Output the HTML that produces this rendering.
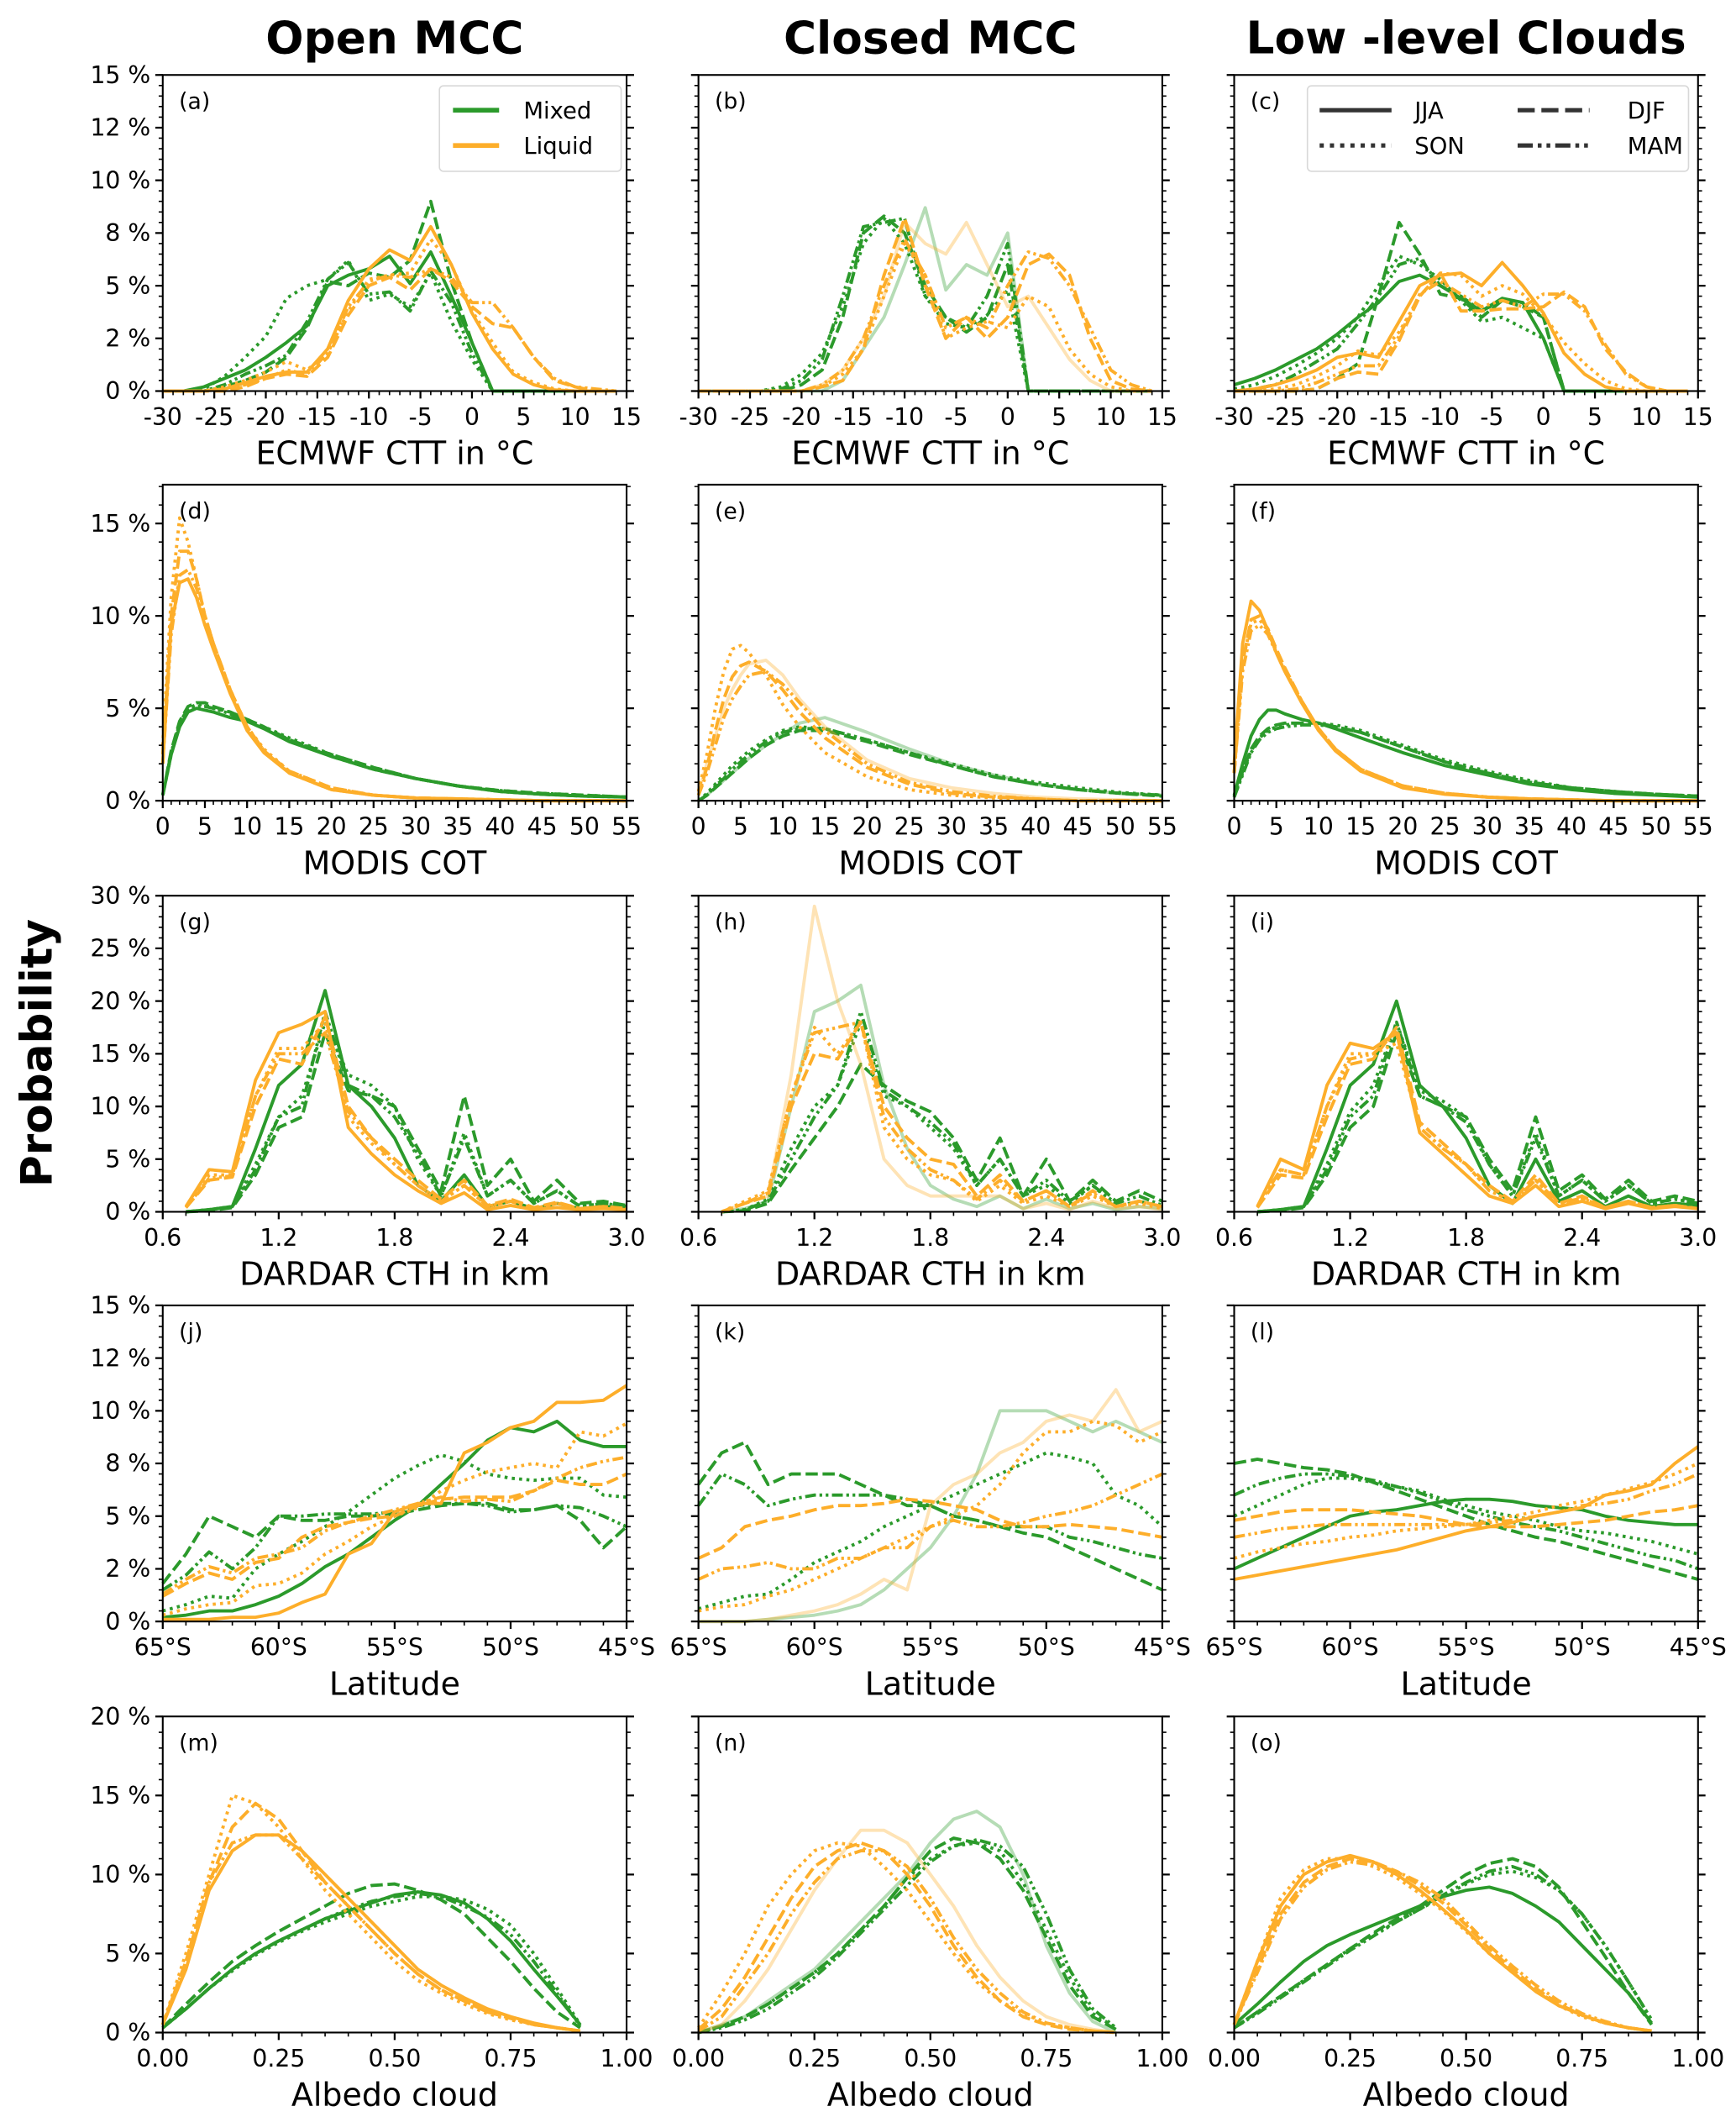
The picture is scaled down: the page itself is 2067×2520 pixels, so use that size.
<!DOCTYPE html>
<html><head><meta charset="utf-8"><title>Cloud statistics figure</title>
<style>
html,body{margin:0;padding:0;background:#fff;}
svg{display:block;font-family:"DejaVu Sans","Liberation Sans",sans-serif;}
</style></head>
<body>
<svg id="fig" width="2067" height="2520" viewBox="0 0 1280 1560" xmlns="http://www.w3.org/2000/svg"></svg>
<script>
// ---------- x grids ----------
const cttX = [-30,-28,-26,-24,-22,-20,-18,-16,-14,-12,-10,-8,-6,-4,-2,0,2,4,6,8,10,12,14];
const cotX = [0,1,2,3,4,5,6,8,10,12,15,20,25,30,35,40,45,50,55];
const cthX = [0.72,0.84,0.96,1.08,1.2,1.32,1.44,1.56,1.68,1.8,1.92,2.04,2.16,2.28,2.4,2.52,2.64,2.76,2.88,3.0];
const latX = [-65,-64,-63,-62,-61,-60,-59,-58,-57,-56,-55,-54,-53,-52,-51,-50,-49,-48,-47,-46,-45];
const albX = [0,0.05,0.1,0.15,0.2,0.25,0.3,0.35,0.4,0.45,0.5,0.55,0.6,0.65,0.7,0.75,0.8,0.85,0.9];

// ---------- tick labels ----------
const cttTicks = [-30,-25,-20,-15,-10,-5,0,5,10,15];
const cttTickLabels = ["-30","-25","-20","-15","-10","-5","0","5","10","15"];
const cotTicks = [0,5,10,15,20,25,30,35,40,45,50,55];
const cotTickLabels = ["0","5","10","15","20","25","30","35","40","45","50","55"];
const cthTicks = [0.6,1.2,1.8,2.4,3.0];
const cthTickLabels = ["0.6","1.2","1.8","2.4","3.0"];
const latTicks = [-65,-60,-55,-50,-45];
const latTickLabels = ["65°S","60°S","55°S","50°S","45°S"];
const albTicks = [0,0.25,0.5,0.75,1.0];
const albTickLabels = ["0.00","0.25","0.50","0.75","1.00"];
const y15Ticks = [0,2.5,5,7.5,10,12.5,15];
const y15Labels = ["0 %","2 %","5 %","8 %","10 %","12 %","15 %"];
const y17Ticks = [0,5,10,15];
const y17Labels = ["0 %","5 %","10 %","15 %"];
const y30Ticks = [0,5,10,15,20,25,30];
const y30Labels = ["0 %","5 %","10 %","15 %","20 %","25 %","30 %"];
const y20Ticks = [0,5,10,15,20];
const y20Labels = ["0 %","5 %","10 %","15 %","20 %"];

// ---------- (a) ----------
const a_gJ=[0,0,0.2,0.6,1,1.6,2.3,3.1,5,5.5,5.8,6.4,5.1,6.6,4.5,2.3,0,0,0,0,0,0,0];
const a_gS=[0,0,0.1,0.7,1.6,2.6,4.4,5.0,5.3,6.2,4.3,4.6,4.0,5.6,3.3,1.5,0,0,0,0,0,0,0];
const a_gD=[0,0,0,0.2,0.5,0.9,1.6,3.0,5.2,5.0,5.6,5.4,6.2,9.0,5.2,2.3,0,0,0,0,0,0,0];
const a_gM=[0,0,0,0.3,0.8,1.2,1.7,3.3,5.3,6.1,4.6,4.7,3.8,5.7,4.2,1.8,0,0,0,0,0,0,0];
const a_oJ=[0,0,0,0.1,0.4,0.7,0.9,0.9,2.0,4.3,5.8,6.7,6.2,7.8,6.0,3.7,2.0,0.8,0.3,0.05,0,0,0];
const a_oS=[0,0,0,0.2,0.5,0.9,1.4,1.0,1.8,3.8,5.3,5.5,5.6,7.2,6.0,3.8,2.3,0.9,0.4,0.1,0,0,0];
const a_oD=[0,0,0,0,0.2,0.6,0.8,0.7,1.6,3.6,5.0,5.4,4.8,5.8,5.2,4.0,3.2,3.0,1.6,0.5,0.2,0,0];
const a_oM=[0,0,0,0.1,0.3,0.6,1.0,0.8,1.8,4.0,5.2,5.5,5.4,5.8,5.4,4.2,4.2,3.0,1.6,0.6,0.2,0.1,0];
// ---------- (b) ----------
const b_gJ=[0,0,0,0,0,0,0,0.5,2.0,3.5,6.0,8.7,4.8,6.0,5.5,7.5,0,0,0,0,0,0,0];
const b_gS=[0,0,0,0,0.2,0.8,1.8,4.0,7.0,8.2,7.0,4.5,3.2,3.0,3.6,4.8,0,0,0,0,0,0,0];
const b_gD=[0,0,0,0,0,0.3,1.0,3.5,7.5,8.3,7.5,5.0,3.5,2.8,3.5,6.0,0,0,0,0,0,0,0];
const b_gM=[0,0,0,0,0.1,0.5,1.5,4.5,7.8,8.0,8.2,4.5,3.5,3.0,4.5,7.0,0,0,0,0,0,0,0];
const b_oJ=[0,0,0,0,0,0,0.3,1.0,2.5,4.5,8.0,7.0,6.5,8.0,6.0,4.0,4.5,3.0,1.5,0.5,0,0,0];
const b_oS=[0,0,0,0,0,0,0.2,0.8,2.0,4.5,7.0,5.5,2.5,3.0,3.3,3.0,4.5,4.0,2.0,0.8,0.2,0,0];
const b_oD=[0,0,0,0,0,0,0.2,0.5,2.0,5.5,8.2,5.0,2.5,3.5,2.5,3.5,6.0,6.5,5.5,2.5,0.5,0.1,0];
const b_oM=[0,0,0,0,0,0,0.3,1.0,2.5,5.0,7.2,5.5,3.0,3.5,3.0,5.0,6.6,6.3,5.0,3.0,1.0,0.3,0];
// ---------- (c) ----------
const c_gJ=[0.3,0.6,1.0,1.5,2.0,2.7,3.5,4.2,5.2,5.5,5.0,4.4,3.8,4.4,4.2,2.5,0,0,0,0,0,0,0];
const c_gS=[0.1,0.3,0.7,1.2,1.8,2.5,3.5,5.0,6.4,6.0,5.3,4.3,3.3,3.5,3.0,2.5,0,0,0,0,0,0,0];
const c_gD=[0,0,0,0,0.1,0.6,1.3,4.5,8.0,6.5,4.6,4.4,3.5,4.3,4.0,3.5,0,0,0,0,0,0,0];
const c_gM=[0,0.1,0.3,0.8,1.4,2.0,3.2,4.5,6.0,6.3,5.0,4.5,3.8,4.3,4.2,3.5,0,0,0,0,0,0,0];
const c_oJ=[0,0.1,0.3,0.6,1.0,1.6,1.8,1.6,3.3,5.0,5.5,5.6,5.0,6.1,5.0,3.7,1.8,0.8,0.2,0,0,0,0];
const c_oS=[0,0,0.1,0.3,0.7,1.2,1.9,1.7,2.8,4.5,5.6,5.5,4.5,5.0,4.6,3.6,2.3,1.3,0.5,0.1,0,0,0];
const c_oD=[0,0,0,0,0.1,0.6,0.9,0.8,2.4,4.5,5.6,3.8,3.8,3.9,3.9,4.0,4.7,4.0,2.0,0.9,0.2,0,0];
const c_oM=[0,0,0,0.1,0.4,0.8,1.2,1.2,2.6,4.6,5.2,4.6,4.0,4.3,4.0,4.6,4.6,3.8,2.2,0.8,0.2,0,0];
// ---------- (d) ----------
const d_gJ=[0.3,2.5,4,4.8,5.0,4.9,4.8,4.5,4.3,3.9,3.2,2.4,1.7,1.2,0.8,0.5,0.35,0.25,0.2];
const d_gS=[0.3,2.5,4.2,5.0,5.2,5.2,5.0,4.8,4.4,4.0,3.4,2.5,1.8,1.2,0.8,0.55,0.4,0.3,0.2];
const d_gD=[0.3,2.7,4.3,5.1,5.3,5.3,5.1,4.8,4.4,4.0,3.3,2.5,1.8,1.2,0.8,0.55,0.4,0.3,0.2];
const d_gM=[0.3,2.6,4.2,5.0,5.1,5.1,5.0,4.7,4.3,3.9,3.3,2.4,1.7,1.2,0.8,0.5,0.35,0.25,0.2];
const d_oJ=[2,9.5,11.8,12.0,11,9.5,8.2,5.8,3.8,2.6,1.5,0.6,0.3,0.15,0.1,0.05,0,0,0];
const d_oS=[3,11,15.3,14,12,10,8.5,6,4,2.8,1.6,0.7,0.3,0.15,0.1,0.05,0,0,0];
const d_oD=[2.5,10,13.5,13.5,12,10,8.5,6,4,2.7,1.6,0.7,0.3,0.15,0.1,0.05,0,0,0];
const d_oM=[2,9,12.2,12.5,11.5,10,8.5,6,4,2.7,1.5,0.6,0.3,0.15,0.1,0.05,0,0,0];
// ---------- (e) ----------
const e_gJ=[0,0.3,0.7,1.1,1.5,1.9,2.3,3,3.6,4.2,4.5,3.7,2.8,2,1.4,0.9,0.6,0.4,0.3];
const e_gS=[0,0.4,0.9,1.4,1.9,2.3,2.7,3.3,3.8,4.0,3.9,3.3,2.6,2.0,1.4,1.0,0.7,0.45,0.3];
const e_gD=[0,0.3,0.7,1.1,1.5,1.9,2.3,3,3.5,3.8,3.8,3.2,2.5,1.9,1.3,0.9,0.6,0.4,0.25];
const e_gM=[0,0.3,0.8,1.2,1.7,2.1,2.5,3.2,3.7,3.9,3.9,3.3,2.6,1.9,1.3,0.9,0.6,0.4,0.3];
const e_oJ=[0.5,2,3.5,5,6,6.8,7.4,7.6,6.8,5.5,4,2.2,1.2,0.7,0.4,0.2,0.1,0.05,0];
const e_oS=[0.5,2.5,5,7,8.2,8.4,8,6.8,5.2,4,2.6,1.3,0.6,0.3,0.15,0.1,0,0,0];
const e_oD=[0.3,1.8,3.8,5.5,6.7,7.3,7.5,7,6,4.8,3.4,1.8,0.9,0.4,0.2,0.1,0,0,0];
const e_oM=[0.3,1.5,3,4.5,5.5,6.2,6.8,7,6.3,5.3,3.8,2,1,0.5,0.25,0.1,0,0,0];
// ---------- (f) ----------
const f_gJ=[0.3,2,3.5,4.4,4.9,4.9,4.7,4.4,4.2,3.9,3.4,2.6,1.9,1.4,0.9,0.6,0.4,0.3,0.2];
const f_gS=[0.2,1.5,2.7,3.4,3.8,4.0,4.1,4.2,4.2,4.1,3.8,3.0,2.2,1.6,1.1,0.7,0.5,0.35,0.25];
const f_gD=[0.2,1.6,2.8,3.5,3.9,4.1,4.2,4.2,4.2,4.0,3.7,2.9,2.1,1.5,1.0,0.7,0.5,0.35,0.25];
const f_gM=[0.2,1.4,2.6,3.3,3.7,3.9,4.0,4.1,4.1,4.0,3.7,2.9,2.1,1.5,1.0,0.7,0.5,0.35,0.25];
const f_oJ=[2,8.5,10.8,10.3,9.2,8,7,5.3,3.8,2.7,1.6,0.7,0.35,0.2,0.1,0.05,0,0,0];
const f_oS=[1.5,7.5,9.6,9.8,9.2,8.1,7.1,5.4,3.9,2.8,1.7,0.8,0.4,0.2,0.1,0.05,0,0,0];
const f_oD=[1.5,7.5,9.8,10,9.3,8.2,7.2,5.4,3.9,2.8,1.7,0.8,0.4,0.2,0.1,0.05,0,0,0];
const f_oM=[1.5,7,9.2,9.5,9,8,7,5.4,3.9,2.8,1.7,0.8,0.4,0.2,0.1,0.05,0,0,0];
// ---------- (g) ----------
const g_gJ=[0,0.2,0.5,6,12,14,21,12,10,7,2.5,1,3.5,0.5,1,0.3,0.8,0.3,0.5,0.4];
const g_gS=[0,0.2,0.5,4.5,9,11,18,13,12,10,5,1.5,7.5,1.5,3,0.8,2,0.5,0.8,0.5];
const g_gD=[0,0.1,0.4,3.5,8,9,17,11.5,11,10,6,2,11,2.5,5,1,3,0.8,1,0.6];
const g_gM=[0,0.2,0.5,4,9,10,19,12,11,9,5.5,1.5,7,1.5,3,0.8,2,0.5,0.8,0.5];
const g_oJ=[0.5,4,3.8,12.5,17,17.8,19,8,5.5,3.5,2,0.8,1.8,0.2,0.6,0.2,0.4,0.2,0.3,0.2];
const g_oS=[0.5,3.5,3.5,11,15.5,15.5,18,9,6.5,4.5,2.5,1,2.5,0.5,1,0.3,0.8,0.3,0.5,0.3];
const g_oD=[0.4,3,3.3,10,14.5,14,18.5,10,7,5,3,1.2,3,0.6,1.2,0.4,0.9,0.3,0.5,0.3];
const g_oM=[0.4,3.2,3.4,11,15,15,17,9.5,7,4.5,2.5,1,2.5,0.5,1,0.3,0.8,0.3,0.5,0.3];
// ---------- (h) ----------
const h_gJ=[0,0.3,1,10,19,20,21.5,12,6,2.5,1.2,0.5,1.5,0.3,1.2,0.3,0.8,0.2,0.5,0.3];
const h_gS=[0,0.2,1.2,6,10,12,18,11,10,8,6,2.5,5,1.5,2.5,0.8,2.5,0.5,1,0.5];
const h_gD=[0,0.1,0.8,4,7,10,14,12,10.5,9.5,7,3,7,1.5,5,1,3,1,2,1];
const h_gM=[0,0.2,1,5,9,12,19,11.5,10,8.5,6.5,2.5,5,1.5,3,1,2.5,0.8,1.5,0.6];
const h_oJ=[0,0.8,1.5,13,29,20,14,5,2.5,1.5,1.5,1.5,1.5,0.3,0.8,0.2,1,0.3,0.5,0.2];
const h_oS=[0,1,2,11,17.5,15,18,8,5,3.5,3,1,2.5,0.8,1.5,0.5,1.5,0.5,0.8,0.3];
const h_oD=[0,0.8,1.5,10,15,14.5,18,10,7,5,4.5,1.5,3.5,1,2,0.5,2,0.5,1,0.5];
const h_oM=[0,0.8,1.8,11,17,17.5,18,9,6,4,3,1.2,3,1,2,0.5,1.8,0.5,1,0.5];
// ---------- (i) ----------
const i_gJ=[0,0.2,0.5,6,12,14,20,12,10,7,2.5,0.8,5,1,2,0.5,1.5,0.5,0.8,0.6];
const i_gS=[0,0.2,0.5,4.5,9.5,12,18,11.5,10.5,9,4.5,1.5,7.5,1.5,3,1,2.5,0.8,1.2,0.8];
const i_gD=[0,0.1,0.4,3.5,8,10,17,11,10,9,5,2,9,2,3.5,1.2,3,1,1.5,1];
const i_gM=[0,0.2,0.5,4,9,11,18,11,10,8.5,4.5,1.5,7,1.5,3,1,2.5,0.8,1.2,0.8];
const i_oJ=[0.5,5,4,12,16,15.5,17,7.5,5.5,3.5,1.5,0.8,2.5,0.5,1,0.3,0.8,0.3,0.5,0.3];
const i_oS=[0.5,4,3.5,10,15,15,16,8,6,4.5,2,1,3,0.8,1.3,0.4,1,0.4,0.6,0.3];
const i_oD=[0.4,3.5,3.2,9,14,14.5,17.5,8.5,6.5,4.5,2.5,1,3.5,0.8,1.5,0.4,1,0.4,0.6,0.3];
const i_oM=[0.5,4,3.5,10,14.5,15,17,8,6,4.5,2,1,3,0.8,1.3,0.4,1,0.4,0.6,0.3];
// ---------- (j) ----------
const j_gJ=[0.2,0.3,0.5,0.5,0.8,1.2,1.8,2.6,3.2,4.0,4.8,5.5,6.5,7.5,8.6,9.2,9.0,9.5,8.6,8.3,8.3];
const j_gS=[0.5,0.8,1.2,1.1,2.5,3.2,3.8,4.5,5.2,6.0,6.8,7.4,7.9,7.6,7.0,6.8,6.7,6.8,6.8,6.0,5.9];
const j_gD=[1.8,3.2,5.0,4.5,4.0,5.0,4.8,4.8,5.0,5.0,5.1,5.3,5.5,5.6,5.6,5.3,5.3,5.5,4.8,3.5,4.5];
const j_gM=[1.5,2.2,3.3,2.5,3.5,5.0,5.0,5.1,5.1,5.1,5.2,5.5,5.6,5.6,5.5,5.2,5.3,5.5,5.4,5.0,4.5];
const j_oJ=[0.1,0.1,0.1,0.2,0.2,0.4,0.9,1.3,3.2,3.7,5.2,5.6,5.6,8.0,8.5,9.2,9.5,10.4,10.4,10.5,11.2];
const j_oS=[0.3,0.6,0.8,0.9,1.7,1.8,2.3,3.2,3.8,4.5,5.0,5.4,6.2,6.7,7.1,7.3,7.5,7.3,9.0,8.8,9.4];
const j_oD=[1.2,1.8,2.3,2.0,2.8,3.0,4.0,4.5,4.7,4.9,5.0,5.5,5.8,5.9,5.9,5.9,6.2,6.7,6.5,6.5,7.0];
const j_oM=[1.3,2.0,2.6,2.3,3.0,3.2,3.5,4.3,4.7,5.0,5.3,5.6,5.9,5.7,5.8,5.7,6.2,6.8,7.3,7.6,7.8];
// ---------- (k) ----------
const k_gJ=[0,0,0,0.1,0.2,0.3,0.5,0.8,1.5,2.5,3.5,5,7,10,10,10,9.5,9,9.5,9,8.5];
const k_gS=[0.6,0.9,1.2,1.3,2,2.8,3.3,3.8,4.5,5,5.5,6,6.5,7,7.5,8,7.8,7.5,6,5.5,4.5];
const k_gD=[6.5,8,8.5,6.5,7,7,7,6.5,6,5.5,5.5,5,4.8,4.5,4.2,4,3.5,3,2.5,2,1.5];
const k_gM=[5.5,7,6.5,5.5,5.8,6,6,6,6,5.8,5.5,5,4.8,4.5,4.5,4.5,4,3.8,3.5,3.2,3];
const k_oJ=[0,0,0,0.1,0.3,0.5,0.8,1.3,2,1.5,5.5,6.5,7,8,8.5,9.5,9.8,9.5,11,9,9.5];
const k_oS=[0.5,0.7,0.8,1.2,1.5,2,2.5,3,3.5,4,4.5,5,5.5,6.5,8,9,9,9.5,9.3,8.5,9];
const k_oD=[3,3.5,4.5,4.8,5.0,5.3,5.5,5.5,5.6,5.8,5.7,5.5,5.3,4.8,4.5,4.5,4.6,4.5,4.4,4.2,4.0];
const k_oM=[2,2.5,2.6,2.8,2.5,2.5,3,3,3.5,3.5,4.5,4.8,4.5,4.5,4.7,5,5.2,5.5,6,6.5,7];
// ---------- (l) ----------
const l_gJ=[2.5,3,3.5,4,4.5,5,5.2,5.3,5.5,5.7,5.8,5.8,5.7,5.5,5.4,5.3,5,4.8,4.7,4.6,4.6];
const l_gS=[5,5.5,6,6.5,6.8,6.8,6.6,6.4,6.2,5.8,5.5,5.2,5,4.8,4.5,4.3,4.2,4,3.8,3.5,3.2];
const l_gD=[7.5,7.7,7.5,7.3,7.2,7,6.6,6.2,5.8,5.4,5,4.6,4.3,4,3.8,3.5,3.2,2.9,2.6,2.3,2];
const l_gM=[6,6.5,6.8,7,7,6.9,6.7,6.4,6.1,5.7,5.3,5,4.7,4.5,4.3,4,3.7,3.4,3.1,2.9,2.5];
const l_oJ=[2,2.2,2.4,2.6,2.8,3,3.2,3.4,3.7,4,4.3,4.5,4.7,5,5.2,5.4,6,6.2,6.5,7.5,8.3];
const l_oS=[3,3.3,3.5,3.7,3.8,4,4.1,4.3,4.4,4.5,4.6,4.8,5,5.2,5.5,5.7,6,6.3,6.6,7,7.5];
const l_oD=[4.8,5,5.2,5.3,5.3,5.3,5.2,5.1,5,4.8,4.6,4.5,4.5,4.5,4.6,4.7,4.8,5,5.2,5.3,5.5];
const l_oM=[4,4.2,4.4,4.5,4.6,4.6,4.6,4.6,4.6,4.6,4.6,4.7,4.8,5,5.2,5.5,5.6,5.8,6.2,6.5,7];
// ---------- (m) ----------
const m_gJ=[0.3,1.5,2.8,4,5,5.8,6.5,7.2,7.7,8.2,8.7,8.9,8.7,8.2,7.2,5.8,4,2.3,0.5];
const m_gS=[0.3,1.5,2.8,3.9,4.9,5.7,6.4,7,7.5,8,8.3,8.6,8.6,8.4,7.8,6.8,5,2.8,0.5];
const m_gD=[0.3,1.8,3.2,4.5,5.5,6.4,7.2,8,8.8,9.3,9.4,9,8.4,7.5,6,4.5,2.8,1.3,0.3];
const m_gM=[0.3,1.5,2.8,4,5,5.8,6.5,7.2,7.8,8.3,8.6,8.8,8.6,8,7.3,6.2,4.5,2.5,0.4];
const m_oJ=[0.5,4,9,11.5,12.5,12.5,11.5,10,8.5,7,5.5,4,3,2.2,1.5,1,0.6,0.3,0.1];
const m_oS=[0.5,5,10,15,14.5,13,11,9,7.5,6,4.5,3.3,2.5,1.8,1.2,0.8,0.5,0.3,0.1];
const m_oD=[0.5,4.5,9.5,13,14.5,13.5,11.5,9.5,8,6.5,5,3.7,2.7,2,1.3,0.9,0.5,0.3,0.1];
const m_oM=[0.5,4.5,9.5,12,12.5,12.5,11,9.5,8,6.5,5,3.7,2.7,2,1.3,0.9,0.5,0.3,0.1];
// ---------- (n) ----------
const n_gJ=[0,0.5,1,2,3,4,5.5,7,8.5,10,12,13.5,14,13,10,5.5,2.5,0.7,0];
const n_gS=[0,0.4,1,1.8,2.8,3.8,5,6.5,8,9.8,11,11.8,12,11.5,9.5,6.5,3.5,1.2,0.3];
const n_gD=[0,0.4,1,1.8,2.8,3.8,5,6.5,8,9.8,11.5,12.3,12,11,9,6,3,1,0.2];
const n_gM=[0,0.3,0.8,1.5,2.5,3.5,4.8,6.3,7.8,9.3,10.8,11.8,12.2,11.8,10.5,7.5,4,1.5,0.3];
const n_oJ=[0,0.5,2,4,6.5,9,11,12.8,12.8,12,10,8,5.5,3.5,2,1,0.5,0.2,0];
const n_oS=[0.3,2.5,5,8,10,11.5,12,11.8,10.5,9,7,5,3.2,2,1.2,0.6,0.3,0.1,0];
const n_oD=[0.2,1.5,3.5,6,8.5,10.5,11.5,12,11.5,10,8,5.5,3.5,2,1,0.5,0.2,0.1,0];
const n_oM=[0.1,1,3,5,7.5,9.5,11,11.5,11.5,10.5,8.5,6,4,2.5,1.3,0.6,0.3,0.1,0];
// ---------- (o) ----------
const o_gJ=[0.5,1.8,3.2,4.5,5.5,6.2,6.8,7.4,8,8.6,9,9.2,8.8,8,7,5.5,4,2.5,0.6];
const o_gS=[0.3,1.3,2.3,3.3,4.3,5.3,6.2,7,7.8,8.6,9.4,10,10.2,9.8,9,7.5,5.5,3.2,0.8];
const o_gD=[0.3,1.3,2.3,3.3,4.3,5.3,6.3,7.2,8,9,10,10.7,11,10.5,9.2,7,4.8,2.5,0.5];
const o_gM=[0.3,1.2,2.2,3.2,4.2,5.2,6.1,7,7.8,8.7,9.5,10.2,10.5,10,9,7.5,5.5,3.2,0.8];
const o_oJ=[0.5,4.5,8,10,10.8,11.2,10.8,10,9,7.8,6.5,5,3.8,2.6,1.7,1.1,0.6,0.3,0.1];
const o_oS=[0.5,4.5,8.5,10.3,11,11,10.5,9.8,8.8,7.7,6.4,5,3.8,2.7,1.7,1,0.6,0.3,0.1];
const o_oD=[0.5,4,7.5,9.5,10.5,11,10.8,10.2,9.3,8.2,6.8,5.3,4,2.8,1.8,1.1,0.6,0.3,0.1];
const o_oM=[0.5,3.8,7.2,9.2,10.3,10.8,10.6,10.2,9.5,8.5,7,5.5,4.2,3,2,1.2,0.7,0.3,0.1];

// ---------- layout (not data) ----------
const NS = "http://www.w3.org/2000/svg";
const svg = document.getElementById("fig");
const COLX = [120, 515, 910], ROWY = [55, 357, 660, 962, 1265], W = 342, H = 233;
const GREEN = "#2b9a2b", ORANGE = "#fdae2a";
const DASH = ["", "2.2,3.2", "9,3.5", "8,2.6,2,2.6,2,2.6"];
const SEASON = ["jja", "son", "djf", "mam"];
const TICKFS = 17.5, LABELFS = 23.5;

const rows = [
  {xmin:-30,xmax:15,ymax:15,xt:cttTicks,xl:cttTickLabels,xminor:1,yt:y15Ticks,yl:y15Labels,yminor:0.5,label:"ECMWF CTT in °C",x:cttX},
  {xmin:0,xmax:55,ymax:17.1,xt:cotTicks,xl:cotTickLabels,xminor:1,yt:y17Ticks,yl:y17Labels,yminor:1,label:"MODIS COT",x:cotX},
  {xmin:0.6,xmax:3.0,ymax:30,xt:cthTicks,xl:cthTickLabels,xminor:0.12,yt:y30Ticks,yl:y30Labels,yminor:1,label:"DARDAR CTH in km",x:cthX},
  {xmin:-65,xmax:-45,ymax:15,xt:latTicks,xl:latTickLabels,xminor:1,yt:y15Ticks,yl:y15Labels,yminor:0.5,label:"Latitude",x:latX},
  {xmin:0,xmax:1,ymax:20,xt:albTicks,xl:albTickLabels,xminor:0.05,yt:y20Ticks,yl:y20Labels,yminor:1,label:"Albedo cloud",x:albX}
];
const panelSeries = [
  [a_gJ,a_gS,a_gD,a_gM,a_oJ,a_oS,a_oD,a_oM],[b_gJ,b_gS,b_gD,b_gM,b_oJ,b_oS,b_oD,b_oM],[c_gJ,c_gS,c_gD,c_gM,c_oJ,c_oS,c_oD,c_oM],
  [d_gJ,d_gS,d_gD,d_gM,d_oJ,d_oS,d_oD,d_oM],[e_gJ,e_gS,e_gD,e_gM,e_oJ,e_oS,e_oD,e_oM],[f_gJ,f_gS,f_gD,f_gM,f_oJ,f_oS,f_oD,f_oM],
  [g_gJ,g_gS,g_gD,g_gM,g_oJ,g_oS,g_oD,g_oM],[h_gJ,h_gS,h_gD,h_gM,h_oJ,h_oS,h_oD,h_oM],[i_gJ,i_gS,i_gD,i_gM,i_oJ,i_oS,i_oD,i_oM],
  [j_gJ,j_gS,j_gD,j_gM,j_oJ,j_oS,j_oD,j_oM],[k_gJ,k_gS,k_gD,k_gM,k_oJ,k_oS,k_oD,k_oM],[l_gJ,l_gS,l_gD,l_gM,l_oJ,l_oS,l_oD,l_oM],
  [m_gJ,m_gS,m_gD,m_gM,m_oJ,m_oS,m_oD,m_oM],[n_gJ,n_gS,n_gD,n_gM,n_oJ,n_oS,n_oD,n_oM],[o_gJ,o_gS,o_gD,o_gM,o_oJ,o_oS,o_oD,o_oM]
];
const letters = "abcdefghijklmno";

function el(tag, attrs, parent) {
  const e = document.createElementNS(NS, tag);
  for (const k in attrs) e.setAttribute(k, attrs[k]);
  (parent || svg).appendChild(e);
  return e;
}
function txt(s, attrs, parent) { const t = el("text", attrs, parent); t.textContent = s; return t; }

const titles = ["Open MCC", "Closed MCC", "Low -level Clouds"];
titles.forEach((t, c) => {
  const e = txt(t, {x: COLX[c] + W/2, y: 39, "text-anchor": "middle", "font-size": 33, "font-weight": "bold"});
  
  
});
const prob = txt("Probability", {x: 0, y: 0, transform: "translate(38,776) rotate(-90)", "text-anchor": "middle", "font-size": 32, "font-weight": "bold"});



for (let r = 0; r < 5; r++) {
  const R = rows[r];
  for (let c = 0; c < 3; c++) {
    const X0 = COLX[c], Y0 = ROWY[r];
    const sx = v => X0 + (v - R.xmin) / (R.xmax - R.xmin) * W;
    const sy = v => Y0 + H - v / R.ymax * H;
    const g = el("g", {});
    
    

    const ser = panelSeries[r*3+c];
    for (let s = 0; s < 8; s++) {
      const vals = ser[s];
      let d = "";
      vals.forEach((v, i) => { d += (i ? "L" : "M") + sx(R.x[i]).toFixed(2) + "," + sy(v).toFixed(2); });
      const light = (c === 1 && s % 4 === 0);
      const p = el("path", {d: d, fill: "none", stroke: s < 4 ? GREEN : ORANGE, "stroke-width": 2.4,
        "stroke-dasharray": DASH[s % 4], "stroke-linejoin": "round", opacity: light ? 0.35 : 1}, g);
      
      
    }

    const fr = el("rect", {x: X0, y: Y0, width: W, height: H, fill: "none", stroke: "#000", "stroke-width": 1.3}, g);
    
    

    let tk = "";
    const nMinor = Math.round((R.xmax - R.xmin) / R.xminor);
    for (let i = 0; i <= nMinor; i++) { const xv = sx(R.xmin + i * R.xminor); tk += "M" + xv + "," + (Y0+H) + "v3"; }
    const ny = Math.round(R.ymax / R.yminor);
    for (let i = 0; i <= ny; i++) { const yv = sy(i * R.yminor); if (yv < Y0 - 0.5) continue; tk += "M" + X0 + "," + yv + "h-3M" + (X0+W) + "," + yv + "h3"; }
    const minor = el("path", {d: tk, stroke: "#000", "stroke-width": 1}, g);
    
    
    let mk = "";
    R.xt.forEach(v => { mk += "M" + sx(v) + "," + (Y0+H) + "v5.5"; });
    R.yt.forEach(v => { const yv = sy(v); mk += "M" + X0 + "," + yv + "h-5.5M" + (X0+W) + "," + yv + "h5.5"; });
    const major = el("path", {d: mk, stroke: "#000", "stroke-width": 1.4}, g);
    
    

    R.xt.forEach((v, i) => {
      const t = txt(R.xl[i], {x: sx(v), y: Y0 + H + 25, "text-anchor": "middle", "font-size": TICKFS}, g);
      
      
    });
    if (c === 0) {
      R.yt.forEach((v, i) => {
        const t = txt(R.yl[i], {x: X0 - 9, y: sy(v) + 6, "text-anchor": "end", "font-size": TICKFS}, g);
        
        
      });
    }
    const xl = txt(R.label, {x: X0 + W/2, y: Y0 + H + 54, "text-anchor": "middle", "font-size": LABELFS}, g);
    
    
    const pl = txt("(" + letters[r*3+c] + ")", {x: X0 + 12, y: Y0 + 25, "font-size": 16.5}, g);
    
    
  }
}

// legend (a)
const lg1 = el("g", {});


el("rect", {x: 324, y: 63, width: 134, height: 63, rx: 3, fill: "#fff", stroke: "#d8d8d8", "stroke-width": 1}, lg1);
[["Mixed", GREEN, 87], ["Liquid", ORANGE, 113]].forEach(e => {
  const ln = el("line", {x1: 334, x2: 368, y1: e[2] - 6, y2: e[2] - 6, stroke: e[1], "stroke-width": 3.5}, lg1);
  
  
  const t = txt(e[0], {x: 386, y: e[2], "font-size": 17}, lg1);
  
  
});
// legend (c)
const lg2 = el("g", {});


el("rect", {x: 964, y: 63, width: 281, height: 63, rx: 3, fill: "#fff", stroke: "#d8d8d8", "stroke-width": 1}, lg2);
[["JJA", 0, 971, 87], ["SON", 1, 971, 113], ["DJF", 2, 1117, 87], ["MAM", 3, 1117, 113]].forEach(e => {
  const ln = el("line", {x1: e[2] + 2, x2: e[2] + 55, y1: e[3] - 6, y2: e[3] - 6, stroke: "#333", "stroke-width": 3.2, "stroke-dasharray": DASH[e[1]] ? DASH[e[1]].split(",").map(v => v*1.4).join(",") : ""}, lg2);
  
  
  const t = txt(e[0], {x: e[1] < 2 ? 1043 : 1200, y: e[3], "font-size": 17}, lg2);
  
  
});
</script>
</body></html>
